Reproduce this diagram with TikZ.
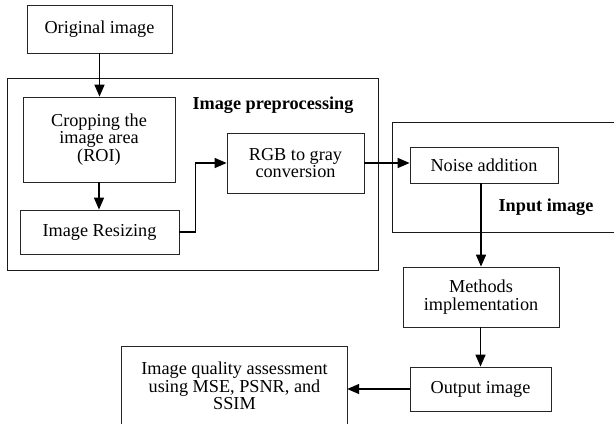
\documentclass[tikz,border=0pt]{standalone}
\usepackage{fontspec}
\setmainfont{Liberation Serif}
\usetikzlibrary{arrows.meta}
\begin{document}
\begin{tikzpicture}[x=1bp,y=-1bp,
  every node/.style={font=\fontsize{18.3}{17.8}\selectfont},
  box/.style={draw=black!85,line width=0.8bp,align=center,inner sep=0pt},
  grp/.style={draw=black!90,line width=0.9bp},
  arr/.style={line width=1.5bp,-{Triangle[length=12bp,width=10bp]}},
  lbl/.style={font=\fontsize{18.3}{17.8}\selectfont\bfseries}]
\useasboundingbox (0,0) rectangle (614,423);
% group frames
\draw[grp] (7,78) rectangle (378,270);
\draw[grp] (614.5,122) -- (392,122) -- (392,232) -- (614.5,232);
\node[lbl] (lpre) at (273,105) {Image preprocessing};
\node[lbl] (linp) at (546,207) {Input image};
% boxes
\node[box,minimum width=145bp,minimum height=48bp] (orig) at (99.5,29) {Original image};
\node[box,minimum width=152bp,minimum height=85bp] (crop) at (99,139.5) {Cropping the\\image area\\(ROI)};
\node[box,minimum width=159bp,minimum height=44bp] (resz) at (99.5,232) {Image Resizing};
\node[box,minimum width=137bp,minimum height=60bp] (rgb) at (295.5,163) {RGB to gray\\conversion};
\node[box,minimum width=148bp,minimum height=36bp] (noise) at (484,165) {Noise addition};
\node[box,minimum width=156bp,minimum height=60bp] (meth) at (481,297) {Methods\\implementation};
\node[box,minimum width=141bp,minimum height=44bp] (out) at (480.5,389) {Output image};
\node[align=center,inner sep=0pt,minimum width=225bp,minimum height=78bp] (iqa) at (234.5,386) {Image quality assessment\\using MSE, PSNR, and\\SSIM};
\draw[black!85,line width=0.8bp] (iqa.west |- 0,424) -- (iqa.north west) -- (iqa.north east) -- (iqa.east |- 0,424);
% connectors
\draw[arr] (orig.south) -- (orig.south |- crop.north);
\draw[arr] (crop.south) -- (crop.south |- resz.north);
\draw[arr] (resz.east) -- ++(16,0) |- (rgb.west);
\draw[arr] (rgb.east) -- (rgb.east -| noise.west);
\draw[arr] (noise.south -| meth.north) -- (meth.north);
\draw[arr] (meth.south -| out.north) -- (out.north);
\draw[arr] (out.west) -- (out.west -| iqa.east);
\end{tikzpicture}
\end{document}
